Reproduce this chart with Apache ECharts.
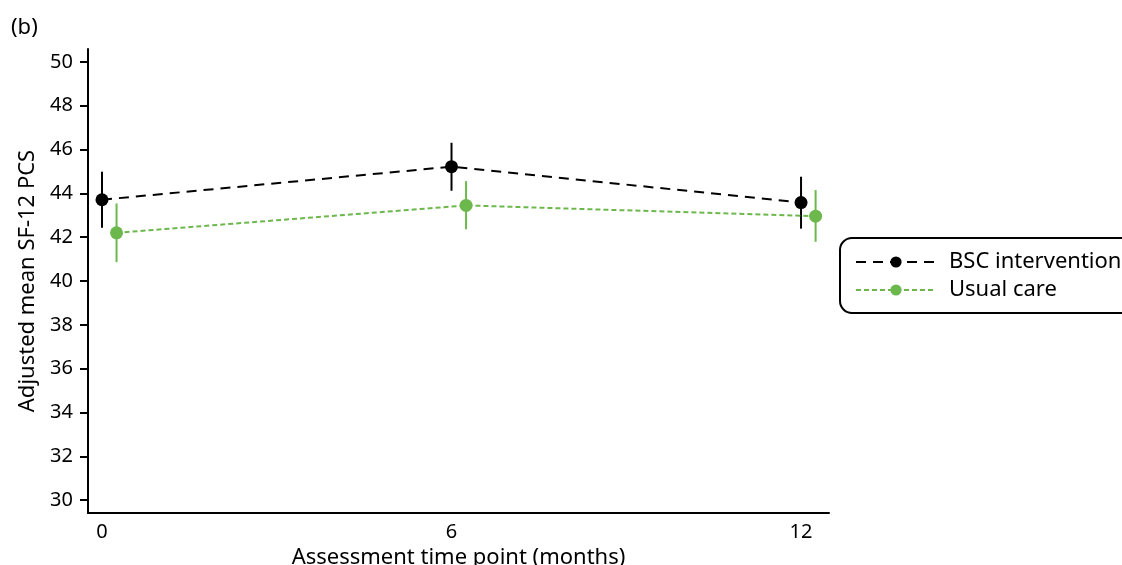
<!DOCTYPE html>
<html>
<head>
<meta charset="utf-8">
<script src="https://cdn.jsdelivr.net/npm/echarts@6/dist/echarts.min.js"></script>
<style>
html,body{margin:0;padding:0;background:#fff;}
#chart{width:1122px;height:565px;}
</style>
</head>
<body>
<div id="chart"></div>
<script>
// ---- data ----
const timePoints = [0, 6, 12];
const xTickLabels = [0, 6, 12];
const yTickValues = [30, 32, 34, 36, 38, 40, 42, 44, 46, 48, 50];
const seriesNames = ['BSC intervention', 'Usual care'];
const bscMean = [43.71, 45.22, 43.58];
const bscLow  = [42.43, 44.12, 42.39];
const bscHigh = [44.99, 46.31, 44.76];
const ucMean  = [42.20, 43.45, 42.96];
const ucLow   = [40.86, 42.36, 41.79];
const ucHigh  = [43.54, 44.56, 44.15];

// ---- styling ----
const dodge = 0.25;
const FONT = '"Noto Sans", "Open Sans", sans-serif';
const GREEN = '#6cb84c';

function pts(xs, ys, off) { return xs.map((x, i) => [x + off, ys[i]]); }
function bars(xs, lo, hi, off) { return xs.map((x, i) => [x + off, lo[i], hi[i]]); }

function errRender(color) {
  return function (params, api) {
    const x = api.value(0);
    const p1 = api.coord([x, api.value(1)]);
    const p2 = api.coord([x, api.value(2)]);
    return {
      type: 'line',
      shape: { x1: p1[0], y1: p1[1], x2: p2[0], y2: p2[1] },
      style: { stroke: color, lineWidth: 2 }
    };
  };
}

const chart = echarts.init(document.getElementById('chart'), null, { renderer: 'canvas' });
chart.setOption({
  backgroundColor: '#fff',
  animation: false,
  textStyle: { fontFamily: FONT },
  graphic: [{
    type: 'text', left: 11, top: 17,
    style: { text: '(b)', font: '22px ' + FONT, fill: '#000' }
  }],
  grid: { left: 88, right: 293, top: 49, bottom: 52, outerBoundsMode: 'none', containLabel: false },
  legend: {
    data: seriesNames,
    orient: 'vertical',
    left: 840, top: 238,
    padding: [13, 40, 12, 15],
    itemGap: 6,
    itemWidth: 80,
    itemHeight: 14,
    borderColor: '#000',
    borderWidth: 2,
    borderRadius: 12,
    textStyle: { fontFamily: FONT, fontSize: 22, color: '#000', lineHeight: 22, padding: [0, 0, 0, 8] }
  },
  xAxis: {
    type: 'value',
    min: -0.24, max: 12.48,
    name: 'Assessment time point (months)',
    nameLocation: 'middle',
    nameGap: 32,
    nameTextStyle: { fontSize: 22, color: '#000', fontFamily: FONT },
    axisLine: { show: true, onZero: false, lineStyle: { color: '#000', width: 2 } },
    axisTick: { show: false },
    axisLabel: { customValues: xTickLabels, fontSize: 20, color: '#000', margin: 9, fontFamily: FONT },
    splitLine: { show: false }
  },
  yAxis: {
    type: 'value',
    min: 29.41, max: 50.59,
    name: 'Adjusted mean SF-12 PCS',
    nameLocation: 'middle',
    nameGap: 46,
    nameTextStyle: { fontSize: 22, color: '#000', fontFamily: FONT },
    axisLine: { show: true, onZero: false, lineStyle: { color: '#000', width: 2 } },
    axisTick: { show: true, customValues: yTickValues, length: 8, lineStyle: { color: '#000', width: 2 } },
    axisLabel: { customValues: yTickValues, fontSize: 20, color: '#000', margin: 15, fontFamily: FONT },
    splitLine: { show: false }
  },
  series: [
    {
      type: 'custom', name: 'bscErr', silent: true, z: 1,
      renderItem: errRender('#000'),
      data: bars(timePoints, bscLow, bscHigh, 0),
      encode: { x: 0, y: [1, 2] }
    },
    {
      type: 'custom', name: 'ucErr', silent: true, z: 1,
      renderItem: errRender(GREEN),
      data: bars(timePoints, ucLow, ucHigh, dodge),
      encode: { x: 0, y: [1, 2] }
    },
    {
      type: 'line', name: seriesNames[0], z: 3,
      data: pts(timePoints, bscMean, 0),
      symbol: 'circle', symbolSize: 13,
      itemStyle: { color: '#000' },
      lineStyle: { color: '#000', width: 2, type: [10, 7] }
    },
    {
      type: 'line', name: seriesNames[1], z: 3,
      data: pts(timePoints, ucMean, dodge),
      symbol: 'circle', symbolSize: 13,
      itemStyle: { color: GREEN },
      lineStyle: { color: GREEN, width: 2, type: [5, 3] }
    }
  ]
});
</script>
</body>
</html>
